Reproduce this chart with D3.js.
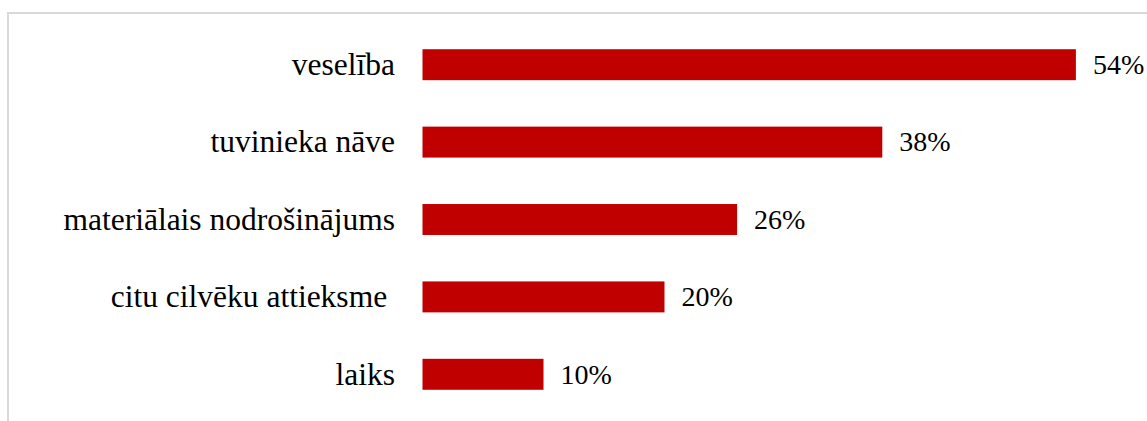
<!DOCTYPE html>
<meta charset="UTF-8">
<style>
  body { margin: 0; background: #fff; }
</style>
<svg width="1147" height="421"></svg>
<script src="https://cdn.jsdelivr.net/npm/d3@7"></script>
<script>

var categories = ["veselība", "tuvinieka nāve", "materiālais nodrošinājums", "citu cilvēku attieksme ", "laiks"];
var values = [54, 38, 26, 20, 10];

var svg = d3.select("svg"),
    width = +svg.attr("width"),
    height = +svg.attr("height");

// chart area frame (only top and left edges are visible in the crop)
svg.append("path")
    .attr("d", "M8,421V13H1147")
    .attr("fill", "none")
    .attr("stroke", "#d9d9d9")
    .attr("stroke-width", 2);

var x = d3.scaleLinear()
    .domain([0, 60])
    .range([422.5, 1148.5]);

var y = d3.scaleBand()
    .domain(categories)
    .range([26, 413])
    .paddingInner(0.6)
    .paddingOuter(0.3);

var rows = svg.selectAll("g.row")
    .data(categories)
    .enter().append("g")
    .attr("class", "row");

rows.append("rect")
    .attr("x", x(0))
    .attr("y", function(d) { return y(d); })
    .attr("width", function(d, i) { return x(values[i]) - x(0); })
    .attr("height", y.bandwidth())
    .attr("fill", "#c00000");

rows.append("text")
    .attr("x", 395)
    .attr("y", function(d) { return y(d) + y.bandwidth() / 2; })
    .attr("dy", "0.33em")
    .attr("text-anchor", "end")
    .attr("font-family", "Liberation Serif")
    .attr("font-size", 31.5)
    .style("white-space", "pre")
    .text(function(d) { return d; });

rows.append("text")
    .attr("x", function(d, i) { return x(values[i]) + 17; })
    .attr("y", function(d) { return y(d) + y.bandwidth() / 2; })
    .attr("dy", "0.33em")
    .attr("font-family", "Liberation Serif")
    .attr("font-size", 28)
    .text(function(d, i) { return values[i] + "%"; });

</script>
